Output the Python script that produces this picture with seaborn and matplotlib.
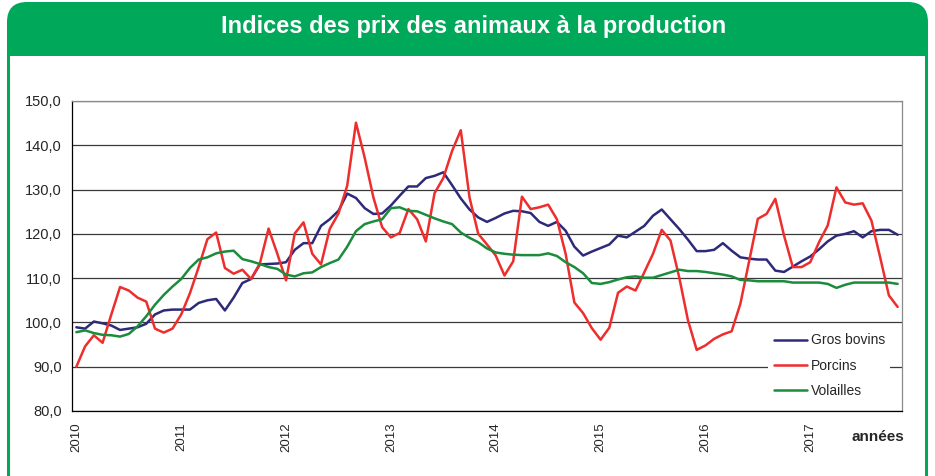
import numpy as np
import pandas as pd
import matplotlib
matplotlib.use('Agg')
import matplotlib.pyplot as plt
import seaborn as sns
from matplotlib.patches import FancyBboxPatch, Rectangle
from matplotlib.ticker import FuncFormatter

# Indices mensuels, janvier 2010 -> novembre 2017
gros_bovins = [98.9, 98.6, 100.2, 99.8, 99.3, 98.3, 98.6, 98.9, 99.7, 101.8, 102.7, 102.9,
               102.9, 102.9, 104.4, 105.0, 105.3, 102.7, 105.6, 108.9, 109.8, 113.1, 113.2, 113.3,
               113.6, 116.4, 117.9, 117.9, 121.8, 123.3, 125.2, 129.1, 128.1, 125.8, 124.5, 124.6,
               126.4, 128.6, 130.7, 130.7, 132.6, 133.1, 133.9, 131.0, 128.0, 125.5, 123.7, 122.7,
               123.6, 124.6, 125.2, 125.1, 124.7, 122.7, 121.8, 122.7, 120.7, 117.1, 115.1, 116.0,
               116.8, 117.6, 119.6, 119.2, 120.5, 121.8, 124.1, 125.5, 123.3, 121.1, 118.7, 116.1,
               116.1, 116.4, 117.9, 116.2, 114.7, 114.4, 114.2, 114.2, 111.7, 111.4, 112.6, 113.8,
               114.9, 116.5, 118.3, 119.6, 120.0, 120.6, 119.2, 120.6, 120.9, 120.9, 119.8]
porcins = [90.0, 94.6, 97.1, 95.4, 101.8, 108.0, 107.2, 105.6, 104.7, 98.6, 97.7, 98.6,
           101.8, 106.6, 112.5, 118.8, 120.3, 112.3, 111.0, 111.9, 109.8, 113.3, 121.2, 115.5,
           109.5, 120.1, 122.6, 115.5, 113.1, 121.1, 124.6, 130.9, 145.1, 137.2, 128.2, 121.5,
           119.2, 120.2, 125.6, 123.3, 118.3, 129.2, 132.6, 138.7, 143.4, 128.2, 120.0, 117.6,
           115.1, 110.6, 113.8, 128.4, 125.6, 126.0, 126.6, 123.3, 115.5, 104.5, 102.1, 98.7,
           96.1, 98.8, 106.7, 108.1, 107.2, 111.3, 115.5, 120.9, 118.5, 110.2, 100.5, 93.8,
           94.8, 96.3, 97.3, 98.0, 104.2, 113.8, 123.4, 124.5, 127.9, 119.6, 112.5, 112.5,
           113.6, 118.1, 121.9, 130.5, 127.1, 126.6, 126.9, 123.0, 114.7, 106.1, 103.5]
volailles = [97.8, 98.2, 97.6, 97.2, 97.1, 96.8, 97.4, 99.1, 101.4, 104.0, 106.2, 108.1,
             109.8, 112.3, 114.2, 114.7, 115.6, 116.0, 116.2, 114.3, 113.8, 113.2, 112.5, 112.1,
             110.8, 110.4, 111.1, 111.3, 112.5, 113.4, 114.2, 117.1, 120.6, 122.2, 122.8, 123.3,
             125.8, 126.0, 125.2, 125.1, 124.3, 123.5, 122.8, 122.2, 120.3, 119.1, 118.1, 116.7,
             115.8, 115.5, 115.3, 115.2, 115.2, 115.2, 115.6, 115.0, 113.6, 112.5, 111.1, 108.9,
             108.7, 109.1, 109.7, 110.2, 110.4, 110.1, 110.1, 110.7, 111.3, 111.9, 111.6, 111.6,
             111.4, 111.1, 110.8, 110.4, 109.6, 109.5, 109.3, 109.3, 109.3, 109.3, 109.0, 109.0,
             109.0, 109.0, 108.7, 107.8, 108.5, 109.0, 109.0, 109.0, 109.0, 109.0, 108.7]
annees = ['2010', '2011', '2012', '2013', '2014', '2015', '2016', '2017']
series = ['Gros bovins', 'Porcins', 'Volailles']
couleurs = ['#2e2a7a', '#ee2d2d', '#1a8c3c']

df = pd.DataFrame({'mois': np.arange(len(porcins)),
                   'Gros bovins': gros_bovins,
                   'Porcins': porcins,
                   'Volailles': volailles})
long = df.melt(id_vars='mois', var_name='serie', value_name='indice')

W, H = 935, 476
sns.set_style('white')
plt.rcParams['font.family'] = ['Liberation Sans', 'DejaVu Sans']

fig = plt.figure(figsize=(W / 100, H / 100), dpi=100)

# cadre vert avec bandeau de titre
cadre = FancyBboxPatch((7 / 100, -0.5), 921 / 100, (H - 2) / 100 + 0.5,
                       boxstyle='round,pad=0,rounding_size=0.2',
                       transform=fig.dpi_scale_trans, facecolor='#00a85a',
                       edgecolor='none', zorder=-2)
fig.add_artist(cadre)
fond = Rectangle((10 / 100, -0.1), 915 / 100, (H - 56) / 100 + 0.1,
                 transform=fig.dpi_scale_trans, facecolor='white',
                 edgecolor='none', zorder=-1)
fig.add_artist(fond)
fig.text(474 / W, 1 - 27 / H, 'Indices des prix des animaux à la production',
         ha='center', va='center', color='white', fontsize=17, fontweight='bold')

ax = fig.add_axes([72 / W, 1 - 411 / H, 830 / W, 310 / H])
sns.lineplot(data=long, x='mois', y='indice', hue='serie', hue_order=series,
             palette=couleurs, linewidth=1.8, ax=ax)

ax.set_xlim(-0.5, len(porcins) - 0.5)
ax.set_ylim(80, 150)
ax.set_yticks(np.arange(80, 151, 10))
ax.yaxis.set_major_formatter(FuncFormatter(lambda v, p: f'{v:.1f}'.replace('.', ',')))
ax.set_xticks(np.arange(0, len(porcins), 12))
ax.set_xticklabels(annees, rotation=90)
ax.set_xticks(np.arange(-0.5, len(porcins), 1), minor=True)
ax.tick_params(axis='x', which='major', length=0, pad=8, labelsize=9.5)
ax.tick_params(axis='x', which='minor', length=4, width=0.8, color='black', direction='out')
ax.tick_params(axis='y', length=4, width=0.8, color='black', direction='out', pad=3.5, labelsize=10.5)
ax.set_xlabel('')
ax.set_ylabel('')
ax.grid(axis='y', color='#3a3a3a', linewidth=0.9)
ax.set_axisbelow(True)
for s in ['left', 'bottom']:
    ax.spines[s].set_color('black')
    ax.spines[s].set_linewidth(0.9)
for s in ['top', 'right']:
    ax.spines[s].set_color('#8a8a8a')
    ax.spines[s].set_linewidth(0.9)

ax.legend(loc='lower right', bbox_to_anchor=(0.986, 0.025), borderaxespad=0,
          frameon=True, facecolor='white', edgecolor='none', framealpha=1,
          fancybox=False, fontsize=10, handlelength=2.4, handletextpad=0.25,
          labelspacing=0.8, borderpad=0.4)

fig.text(878 / W, 1 - 437 / H, 'années', ha='center', va='center',
         fontsize=11, fontweight='bold')

fig.savefig('out.png', dpi=100)
